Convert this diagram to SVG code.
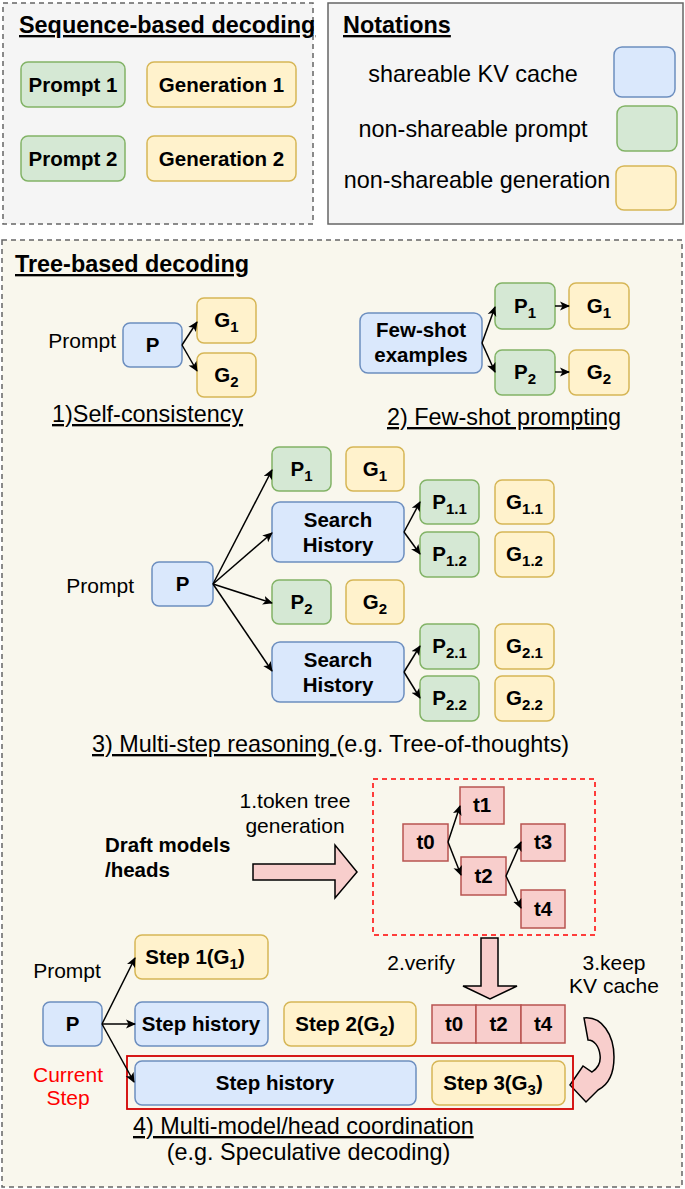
<svg xmlns="http://www.w3.org/2000/svg" width="685" height="1189" viewBox="0 0 685 1189">
<style>
text{font-family:"Liberation Sans",Arial,sans-serif;fill:#000}
.b{font-weight:bold;font-size:20.5px;text-anchor:middle}
.t{font-weight:bold;font-size:23.4px;text-decoration:underline}
.r{font-size:23.4px}
.s{font-size:21px}
.u{text-decoration:underline}
.m{text-anchor:middle}
.sub{font-size:15px}
.blue{fill:#dae8fc;stroke:#6c8ebf;stroke-width:1.5}
.green{fill:#d5e8d4;stroke:#82b366;stroke-width:1.5}
.yellow{fill:#fff2cc;stroke:#d6b656;stroke-width:1.5}
.pink{fill:#f8cecc;stroke:#b85450;stroke-width:1.5}
.blk{fill:#f8cecc;stroke:#000;stroke-width:1.5}
.c{stroke:#000;stroke-width:1.5;fill:none;marker-end:url(#ah)}
</style>
<defs>
<marker id="ah" markerUnits="userSpaceOnUse" markerWidth="10" markerHeight="10" viewBox="0 0 10 10" refX="9" refY="5" orient="auto">
<path d="M0,0.5 L10,5 L0,9.5 L2.5,5 Z" fill="#000"/>
</marker>
</defs>

<!-- Sequence-based panel -->
<g id="seq-panel">
<rect x="3" y="3" width="310" height="221" fill="#f5f5f5" stroke="#666" stroke-width="1.5" stroke-dasharray="5,4"/>
<text class="t" x="19" y="33">Sequence-based decoding</text>
</g>
<g id="prompt1"><rect class="green" x="21" y="62" width="104" height="45" rx="7"/><text class="b" x="73" y="92">Prompt 1</text></g>
<g id="gen1"><rect class="yellow" x="147" y="62" width="149" height="45" rx="7"/><text class="b" x="221.5" y="92">Generation 1</text></g>
<g id="prompt2"><rect class="green" x="21" y="136" width="104" height="45" rx="7"/><text class="b" x="73" y="166">Prompt 2</text></g>
<g id="gen2"><rect class="yellow" x="147" y="136" width="149" height="45" rx="7"/><text class="b" x="221.5" y="166">Generation 2</text></g>

<!-- Notations -->
<g id="notations">
<rect x="328" y="3" width="355" height="221" fill="#f5f5f5" stroke="#666" stroke-width="1.5"/>
<text class="t" x="343" y="33">Notations</text>
<text class="r m" x="473" y="82">shareable KV cache</text>
<rect class="blue" x="614" y="47" width="61" height="50" rx="8"/>
<text class="r m" x="473" y="137">non-shareable prompt</text>
<rect class="green" x="617" y="106" width="60" height="45" rx="8"/>
<text class="r m" x="477" y="188">non-shareable generation</text>
<rect class="yellow" x="616" y="166" width="60" height="44" rx="8"/>
</g>

<!-- Tree-based panel -->
<g id="tree-panel">
<rect x="2" y="240" width="680" height="947" fill="#f9f7ed" stroke="#666" stroke-width="1.5" stroke-dasharray="5,4"/>
<text class="t" x="15" y="272">Tree-based decoding</text>
</g>

<!-- 1) Self-consistency -->
<g id="sc-label"><text class="s" x="116" y="348" text-anchor="end">Prompt</text></g>
<g id="sc-p"><rect class="blue" x="123" y="323" width="59" height="44" rx="7"/><text class="b" x="152.5" y="352">P</text></g>
<g id="sc-g1"><rect class="yellow" x="197" y="298" width="59" height="45" rx="7"/><text class="b" x="226.5" y="327">G<tspan class="sub" dy="5">1</tspan></text></g>
<g id="sc-g2"><rect class="yellow" x="197" y="353" width="59" height="44" rx="7"/><text class="b" x="226.5" y="382">G<tspan class="sub" dy="5">2</tspan></text></g>
<g id="sc-caption"><text class="r u" x="52" y="422">1)Self-consistency</text></g>

<!-- 2) Few-shot -->
<g id="fs-ex"><rect class="blue" x="360" y="313" width="122" height="60" rx="8"/><text class="b" x="421" y="337">Few-shot</text><text class="b" x="421" y="362">examples</text></g>
<g id="fs-p1"><rect class="green" x="495" y="283" width="60" height="46" rx="7"/><text class="b" x="525" y="313">P<tspan class="sub" dy="5">1</tspan></text></g>
<g id="fs-g1"><rect class="yellow" x="569" y="283" width="60" height="46" rx="7"/><text class="b" x="599" y="313">G<tspan class="sub" dy="5">1</tspan></text></g>
<g id="fs-p2"><rect class="green" x="495" y="350" width="60" height="45" rx="7"/><text class="b" x="525" y="379">P<tspan class="sub" dy="5">2</tspan></text></g>
<g id="fs-g2"><rect class="yellow" x="569" y="350" width="60" height="45" rx="7"/><text class="b" x="599" y="379">G<tspan class="sub" dy="5">2</tspan></text></g>
<g id="fs-caption"><text class="r u" x="387" y="425">2) Few-shot prompting</text></g>

<!-- 3) Multi-step reasoning -->
<g id="ms-label"><text class="s" x="134" y="593" text-anchor="end">Prompt</text></g>
<g id="ms-p"><rect class="blue" x="152" y="562" width="61" height="44" rx="7"/><text class="b" x="182.5" y="591">P</text></g>
<g id="ms-p1"><rect class="green" x="272" y="447" width="59" height="44" rx="7"/><text class="b" x="301.5" y="476">P<tspan class="sub" dy="5">1</tspan></text></g>
<g id="ms-g1"><rect class="yellow" x="346" y="447" width="58" height="44" rx="7"/><text class="b" x="375" y="476">G<tspan class="sub" dy="5">1</tspan></text></g>
<g id="ms-sh1"><rect class="blue" x="272" y="502" width="132" height="60" rx="8"/><text class="b" x="338" y="527">Search</text><text class="b" x="338" y="552">History</text></g>
<g id="ms-p11"><rect class="green" x="420" y="480" width="59" height="44" rx="7"/><text class="b" x="449.5" y="509">P<tspan class="sub" dy="5">1.1</tspan></text></g>
<g id="ms-g11"><rect class="yellow" x="495" y="480" width="59" height="44" rx="7"/><text class="b" x="524.5" y="509">G<tspan class="sub" dy="5">1.1</tspan></text></g>
<g id="ms-p12"><rect class="green" x="420" y="532" width="59" height="45" rx="7"/><text class="b" x="449.5" y="561">P<tspan class="sub" dy="5">1.2</tspan></text></g>
<g id="ms-g12"><rect class="yellow" x="495" y="532" width="59" height="45" rx="7"/><text class="b" x="524.5" y="561">G<tspan class="sub" dy="5">1.2</tspan></text></g>
<g id="ms-p2"><rect class="green" x="272" y="580" width="59" height="44" rx="7"/><text class="b" x="301.5" y="609">P<tspan class="sub" dy="5">2</tspan></text></g>
<g id="ms-g2"><rect class="yellow" x="346" y="580" width="58" height="44" rx="7"/><text class="b" x="375" y="609">G<tspan class="sub" dy="5">2</tspan></text></g>
<g id="ms-sh2"><rect class="blue" x="272" y="642" width="132" height="60" rx="8"/><text class="b" x="338" y="667">Search</text><text class="b" x="338" y="692">History</text></g>
<g id="ms-p21"><rect class="green" x="420" y="624" width="59" height="45" rx="7"/><text class="b" x="449.5" y="653">P<tspan class="sub" dy="5">2.1</tspan></text></g>
<g id="ms-g21"><rect class="yellow" x="495" y="624" width="59" height="45" rx="7"/><text class="b" x="524.5" y="653">G<tspan class="sub" dy="5">2.1</tspan></text></g>
<g id="ms-p22"><rect class="green" x="420" y="676" width="59" height="45" rx="7"/><text class="b" x="449.5" y="705">P<tspan class="sub" dy="5">2.2</tspan></text></g>
<g id="ms-g22"><rect class="yellow" x="495" y="676" width="59" height="45" rx="7"/><text class="b" x="524.5" y="705">G<tspan class="sub" dy="5">2.2</tspan></text></g>
<g id="ms-caption"><text class="r" x="92" y="752"><tspan class="u">3) Multi-step reasoning </tspan>(e.g. Tree-of-thoughts)</text></g>

<!-- 4) Speculative -->
<g id="draft"><text class="b" x="105" y="852" style="text-anchor:start">Draft models</text><text class="b" x="105" y="877" style="text-anchor:start">/heads</text></g>
<g id="tokgen-label"><text class="s m" x="295" y="808">1.token tree</text><text class="s m" x="295" y="833">generation</text></g>
<g id="big-arrow"><path class="blk" d="M253 864 L335 864 L335 845 L357 872 L335 898 L335 880 L253 880 Z"/></g>
<g id="token-tree"><rect x="373" y="779" width="222" height="156" fill="none" stroke="#ff0000" stroke-width="1.5" stroke-dasharray="5,4"/></g>
<g id="t1"><rect class="pink" x="460" y="787" width="44" height="37"/><text class="b" x="482" y="812">t1</text></g>
<g id="t0"><rect class="pink" x="403" y="824" width="45" height="37"/><text class="b" x="425.5" y="849">t0</text></g>
<g id="t2"><rect class="pink" x="461" y="857" width="45" height="38"/><text class="b" x="483.5" y="883">t2</text></g>
<g id="t3"><rect class="pink" x="521" y="824" width="44" height="37"/><text class="b" x="543" y="849">t3</text></g>
<g id="t4"><rect class="pink" x="521" y="890" width="44" height="38"/><text class="b" x="543" y="916">t4</text></g>
<g id="verify-arrow"><path class="blk" d="M481 938 L498 938 L498 986 L517 986 L490 999 L463 986 L481 986 Z"/><text class="s" x="455" y="970" text-anchor="end">2.verify</text></g>
<g id="keep-label"><text class="s m" x="614" y="970">3.keep</text><text class="s m" x="614" y="993">KV cache</text></g>
<g id="curved-arrow"><path class="blk" d="M584 1018 C602 1016,614 1035,614 1057 C614 1075,608 1085,598 1090 L586 1102 L570 1085 L583 1066 L592 1072 C598 1068,601 1062,600 1055 C599 1046,594 1040,588 1040 Z"/></g>
<g id="p4-label"><text class="s m" x="67" y="978">Prompt</text></g>
<g id="p4"><rect class="blue" x="43" y="1002" width="59" height="44" rx="7"/><text class="b" x="72.5" y="1031">P</text></g>
<g id="step1"><rect class="yellow" x="135" y="935" width="133" height="44" rx="7"/><text class="b" x="195" y="964">Step 1(G<tspan class="sub" dy="5">1</tspan><tspan dy="-5">)</tspan></text></g>
<g id="stephist1"><rect class="blue" x="135" y="1002" width="133" height="44" rx="7"/><text class="b" x="201" y="1031">Step history</text></g>
<g id="step2"><rect class="yellow" x="284" y="1002" width="132" height="44" rx="7"/><text class="b" x="345" y="1031">Step 2(G<tspan class="sub" dy="5">2</tspan><tspan dy="-5">)</tspan></text></g>
<g id="accepted"><rect class="pink" x="432" y="1005" width="44" height="38"/><rect class="pink" x="476" y="1005" width="45" height="38"/><rect class="pink" x="521" y="1005" width="44" height="38"/><text class="b" x="454" y="1031">t0</text><text class="b" x="498.5" y="1031">t2</text><text class="b" x="543" y="1031">t4</text></g>
<g id="current"><rect x="127" y="1056" width="446" height="53" fill="none" stroke="#d20000" stroke-width="1.8"/><text class="s m" x="68" y="1082" style="fill:#ff0000">Current</text><text class="s m" x="68" y="1105" style="fill:#ff0000">Step</text></g>
<g id="stephist2"><rect class="blue" x="135" y="1061" width="281" height="44" rx="7"/><text class="b" x="275" y="1090">Step history</text></g>
<g id="step3"><rect class="yellow" x="432" y="1061" width="133" height="44" rx="7"/><text class="b" x="493" y="1090">Step 3(G<tspan class="sub" dy="5">3</tspan><tspan dy="-5">)</tspan></text></g>
<g id="p4-caption"><text class="r" x="133" y="1134"><tspan class="u">4) Multi-model/head coordination </tspan></text><text class="r m" x="308.5" y="1160">(e.g. Speculative decoding)</text></g>

<!-- connectors -->
<g id="connectors">
<path class="c" d="M182 345 L197 322"/>
<path class="c" d="M182 345 L197 371"/>
<path class="c" d="M482 343 L495 307"/>
<path class="c" d="M482 343 L495 372"/>
<path class="c" d="M555 306 L569 306"/>
<path class="c" d="M555 372 L569 372"/>
<path class="c" d="M213 584 L272 470"/>
<path class="c" d="M213 584 L272 533"/>
<path class="c" d="M213 584 L272 603"/>
<path class="c" d="M213 584 L272 671"/>
<path class="c" d="M404 532 L420 502"/>
<path class="c" d="M404 532 L420 554"/>
<path class="c" d="M404 672 L420 646"/>
<path class="c" d="M404 672 L420 698"/>
<path class="c" d="M448 842 L460 806"/>
<path class="c" d="M448 842 L461 875"/>
<path class="c" d="M506 876 L521 842"/>
<path class="c" d="M506 876 L521 908"/>
<path class="c" d="M102 1024 L135 958"/>
<path class="c" d="M102 1024 L135 1024"/>
<path class="c" d="M102 1024 L134 1082"/>
</g>
</svg>
